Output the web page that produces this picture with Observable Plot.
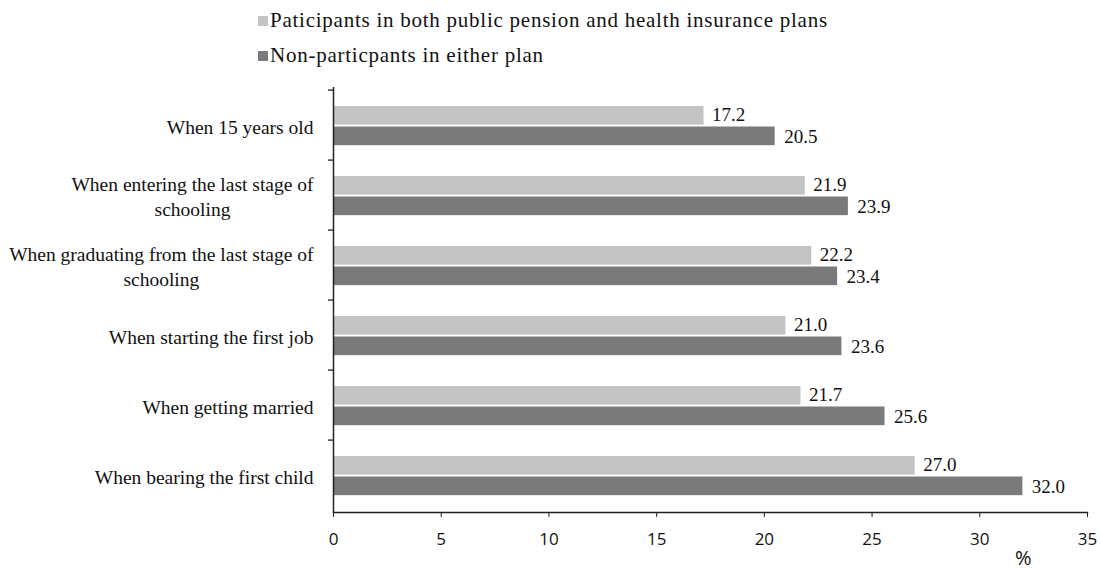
<!DOCTYPE html>
<html>
<head>
<meta charset="utf-8">
<script src="https://cdn.jsdelivr.net/npm/d3@7"></script>
<script src="https://cdn.jsdelivr.net/npm/@observablehq/plot@0.6"></script>
<style>
  body { margin: 0; background: #fff; }
  #legend { position: relative; width: 1101px; height: 75px; font-family: "Liberation Serif", "Times New Roman", serif; font-size: 21px; letter-spacing: 0.75px; color: #111; }
  #legend .item { position: absolute; left: 258px; display: flex; align-items: center; white-space: nowrap; }
  #legend .sw { width: 10px; height: 10px; margin-right: 2px; }
  #chart svg { display: block; }
</style>
</head>
<body>
<div id="legend"></div>
<div id="chart"></div>
<script>
// Life stages (top to bottom), each split into its display lines
const stages = [
  "When 15 years old",
  "When entering the last stage of schooling",
  "When graduating from the last stage of schooling",
  "When starting the first job",
  "When getting married",
  "When bearing the first child"
];
const stageLines = [
  ["When 15 years old"],
  ["When entering the last stage of", "schooling"],
  ["When graduating from the last stage of", "schooling"],
  ["When starting the first job"],
  ["When getting married"],
  ["When bearing the first child"]
];
const seriesNames = [
  "Paticipants in both public pension and health insurance plans",
  "Non-particpants in either plan"
];
const participants = [17.2, 21.9, 22.2, 21.0, 21.7, 27.0];
const nonParticipants = [20.5, 23.9, 23.4, 23.6, 25.6, 32.0];
const xTicks = [0, 5, 10, 15, 20, 25, 30, 35];
const unitLabel = "%";
const colors = ["#c3c3c3", "#7a7a7a"];

// Legend above the chart
const legend = document.getElementById("legend");
seriesNames.forEach((name, i) => {
  const item = document.createElement("div");
  item.className = "item";
  item.style.top = (i === 0 ? 8 : 43) + "px";
  const sw = document.createElement("span");
  sw.className = "sw";
  sw.style.background = colors[i];
  const label = document.createElement("span");
  label.textContent = name;
  item.append(sw, label);
  legend.append(item);
});

const rowsA = stages.map((s, i) => ({stage: s, value: participants[i]}));
const rowsB = stages.map((s, i) => ({stage: s, value: nonParticipants[i]}));

const W = 1101, H = 496;
const mt = 12, mb = 59, ml = 333, mr = 14;
const step = (H - mt - mb) / stages.length;
const pxPerUnit = (W - ml - mr) / 35;

const serif = "Liberation Serif, Times New Roman, serif";
const labelSize = 19.5;
const ctx = document.createElement("canvas").getContext("2d");
ctx.font = `${labelSize}px "Liberation Serif"`;
const lineWidth = (lines) => Math.max(...lines.map(l => ctx.measureText(l).width));

// Category labels: lines centred within each label block, block right-aligned to the axis
const categoryLabels = stages.map((s, i) =>
  Plot.text([s], {
    y: d => d,
    text: () => stageLines[i].join("\n"),
    frameAnchor: "left",
    dx: -(20 + lineWidth(stageLines[i]) / 2),
    textAnchor: "middle",
    lineHeight: 1.3,
    fontSize: labelSize,
    fontFamily: serif,
    fill: "#111"
  })
);

const chart = Plot.plot({
  width: W,
  height: H,
  marginTop: mt,
  marginBottom: mb,
  marginLeft: ml,
  marginRight: mr,
  x: {domain: [0, 35], axis: null},
  y: {domain: stages, paddingInner: 0, paddingOuter: 0, axis: null},
  marks: [
    Plot.barX(rowsA, {x: "value", y: "stage", fill: colors[0], insetTop: 16, insetBottom: step - 35.5}),
    Plot.barX(rowsB, {x: "value", y: "stage", fill: colors[1], insetTop: 36.5, insetBottom: step - 56}),
    Plot.text(rowsA, {x: "value", y: "stage", text: d => d.value.toFixed(1), dx: 8, dy: 25 - step / 2, textAnchor: "start", fontSize: 19, fontFamily: serif, fill: "#111"}),
    Plot.text(rowsB, {x: "value", y: "stage", text: d => d.value.toFixed(1), dx: 9, dy: 47 - step / 2, textAnchor: "start", fontSize: 19, fontFamily: serif, fill: "#111"}),
    ...categoryLabels,
    // Category boundary ticks on the left axis
    Plot.ruleY(stages, {y: d => d, x1: -5 / pxPerUnit, x2: 0, dy: -step / 2, stroke: "#222", strokeWidth: 1.3}),
    Plot.ruleX([0], {stroke: "#222", strokeWidth: 1.5}),
    Plot.frame({anchor: "bottom", stroke: "#222", strokeWidth: 1.5}),
    Plot.axisX({ticks: xTicks, tickSize: 5, tickPadding: 15, tickFormat: d => String(d), fontSize: 17, fontFamily: "Open Sans, sans-serif", label: null, stroke: "#222", fill: "#111"}),
    Plot.text([unitLabel], {text: d => d, frameAnchor: "bottom-right", dx: -56, dy: 52, fontSize: 20, fontFamily: "Open Sans, sans-serif", fill: "#111"})
  ]
});
document.getElementById("chart").append(chart);
</script>
</body>
</html>
